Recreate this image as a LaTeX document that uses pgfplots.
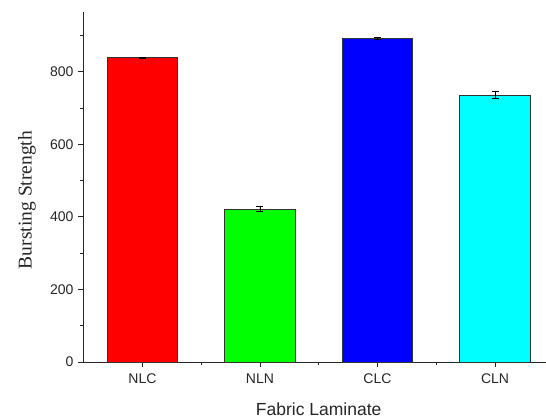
\documentclass[border=0pt]{standalone}
\usepackage{pgfplots}
\pgfplotsset{compat=1.18}
\usepackage{fontspec}
\setmainfont{Liberation Sans}
\newfontfamily\timesfont{Liberation Serif}
\definecolor{cred}{RGB}{255,0,0}
\definecolor{cgreen}{RGB}{0,255,0}
\definecolor{cblue}{RGB}{0,0,255}
\definecolor{ccyan}{RGB}{0,255,255}
\begin{document}
\begin{tikzpicture}
\path[use as bounding box] (-83pt,-56pt) rectangle (463pt,362pt);
\begin{axis}[
  at={(0,0)}, anchor=south west,
  scale only axis, width=463pt, height=350pt,
  axis x line*=bottom, axis y line*=left,
  axis line style={-, line width=0.9pt, black!85},
  xmin=0.494, xmax=4.434, ymin=0, ymax=965,
  xtick={1,2,3,4}, xticklabels={NLC,NLN,CLC,CLN},
  minor xtick={1.5,2.5,3.5},
  ytick={0,200,400,600,800},
  minor ytick={100,300,500,700,900},
  tick align=outside,
  major tick length=5pt, minor tick length=3pt,
  tick style={line width=0.9pt, black!85},
  /pgf/number format/assume math mode=true,
  tick label style={font=\fontsize{14}{16}\selectfont, text=black!85},
  xticklabel style={yshift=-3pt},
  yticklabel style={xshift=-1pt},
  xlabel={Fabric Laminate},
  xlabel style={font=\fontsize{17.5}{20}\selectfont, at={(axis description cs:0.509,-0.134)}, anchor=center, text=black!85},
  ylabel={\timesfont Bursting Strength},
  ylabel style={font=\fontsize{19.5}{22}\selectfont, at={(axis description cs:-0.121,0.463)}, anchor=center, text=black!85},
  ybar, bar width=0.6, bar shift=0pt,
  every axis plot/.append style={draw=black!80, line width=0.8pt,
    error bars/y dir=both, error bars/y explicit,
    error bars/error bar style={black, line width=0.7pt},
    error bars/error mark options={black, mark size=3.5pt, line width=0.7pt, rotate=90}},
]
\addplot[fill=cred] coordinates {(1,839) +- (0,2)};
\addplot[fill=cgreen] coordinates {(2,421) +- (0,7)};
\addplot[fill=cblue] coordinates {(3,892) +- (0,3)};
\addplot[fill=ccyan] coordinates {(4,736) +- (0,9)};
\end{axis}
\end{tikzpicture}
\end{document}
